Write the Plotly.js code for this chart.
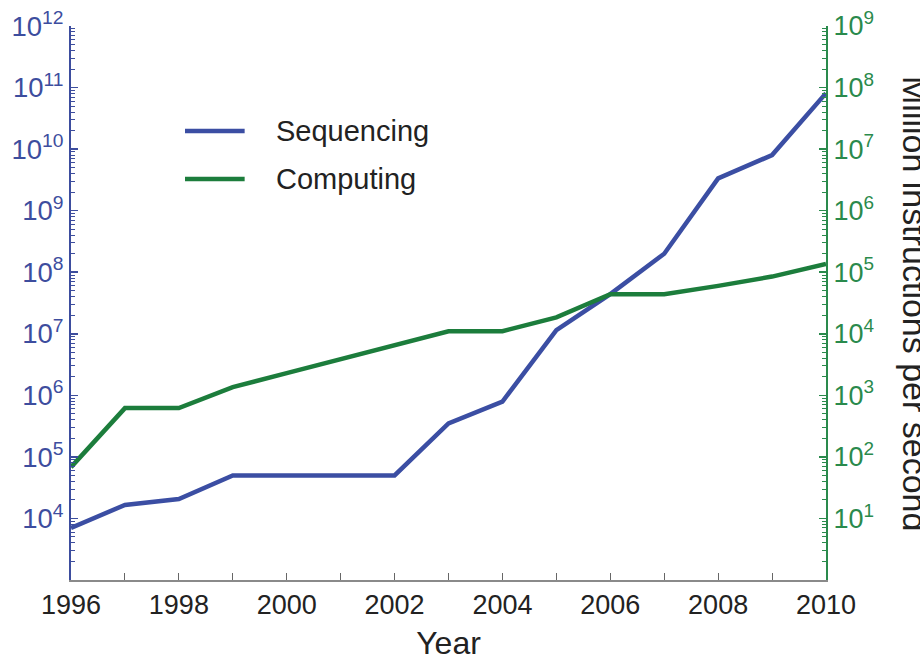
<!DOCTYPE html>
<html>
<head>
<meta charset="utf-8">
<script src="https://cdn.plot.ly/plotly-3.0.1.min.js"></script>
<style>html,body{margin:0;padding:0;background:#fff;}#chart{width:920px;height:661px;}</style>
</head>
<body>
<div id="chart"></div>
<script>
const years = [1996, 1997, 1998, 1999, 2000, 2001, 2002, 2003, 2004, 2005, 2006, 2007, 2008, 2009, 2010];
const sequencing = [7.0e3, 1.66e4, 2.07e4, 5.0e4, 5.0e4, 5.0e4, 5.0e4, 3.5e5, 7.9e5, 1.15e7, 4.4e7, 2.0e8, 3.35e9, 8.0e9, 8.1e10];
const computing = [68, 620, 620, 1360, 2300, 3900, 6600, 1.1e4, 1.1e4, 1.85e4, 4.4e4, 4.4e4, 6.0e4, 8.5e4, 1.36e5];
const seriesNames = ["Sequencing", "Computing"];
const xTickVals = [1996, 1998, 2000, 2002, 2004, 2006, 2008, 2010];
const xTickText = ["1996", "1998", "2000", "2002", "2004", "2006", "2008", "2010"];
const leftTickVals = [1e4, 1e5, 1e6, 1e7, 1e8, 1e9, 1e10, 1e11, 1e12];
const leftTickText = ["10<sup>4</sup>", "10<sup>5</sup>", "10<sup>6</sup>", "10<sup>7</sup>", "10<sup>8</sup>", "10<sup>9</sup>", "10<sup>10</sup>", "10<sup>11</sup>", "10<sup>12</sup>"];
const rightTickVals = [1e1, 1e2, 1e3, 1e4, 1e5, 1e6, 1e7, 1e8, 1e9];
const rightTickText = ["10<sup>1</sup>", "10<sup>2</sup>", "10<sup>3</sup>", "10<sup>4</sup>", "10<sup>5</sup>", "10<sup>6</sup>", "10<sup>7</sup>", "10<sup>8</sup>", "10<sup>9</sup>"];
const xTitle = "Year";
const rightTitle = "Million instructions per second";

const BLUE = "#3b4ea3";
const GREEN = "#1c7d3c";
const BLUE_AX = "#3d4d9e";
const GREEN_AX = "#2a8a4c";
const FONT = "Liberation Sans, Arial, sans-serif";

const traces = [
  {x: years, y: sequencing, name: seriesNames[0], type: "scatter", mode: "lines",
   line: {color: BLUE, width: 4.5}, yaxis: "y", showlegend: false},
  {x: years, y: computing, name: seriesNames[1], type: "scatter", mode: "lines",
   line: {color: GREEN, width: 4.5}, yaxis: "y2", showlegend: false}
];

const layout = {
  width: 920, height: 661,
  margin: {l: 71, r: 94, t: 26, b: 81},
  paper_bgcolor: "#fff", plot_bgcolor: "#fff",
  font: {family: FONT, size: 26, color: "#222"},
  xaxis: {
    range: [1996, 2010], showgrid: false, zeroline: false,
    showline: true, linecolor: "#8a8a8a", linewidth: 1.5,
    tickmode: "array", tickvals: xTickVals, ticktext: xTickText,
    ticks: "inside", ticklen: 7, tickcolor: "#666", tickwidth: 1,
    minor: {dtick: 1, ticks: "inside", ticklen: 7, tickcolor: "#666", tickwidth: 1, showgrid: false},
    tickfont: {family: FONT, size: 27, color: "#222"},
    title: {text: xTitle, font: {family: FONT, size: 32, color: "#222"}, standoff: 14}
  },
  yaxis: {
    type: "log", range: [3, 12], showgrid: false, zeroline: false,
    showline: true, linecolor: BLUE_AX, linewidth: 2,
    tickmode: "array", tickvals: leftTickVals, ticktext: leftTickText,
    ticks: "inside", ticklen: 7, tickcolor: BLUE_AX, tickwidth: 1.5,
    minor: {dtick: "D1", ticks: "inside", ticklen: 4, tickcolor: BLUE_AX, tickwidth: 1, showgrid: false},
    tickfont: {family: FONT, size: 27.5, color: BLUE_AX}
  },
  yaxis2: {
    type: "log", range: [0, 9], overlaying: "y", side: "right", anchor: "x",
    showgrid: false, zeroline: false,
    showline: true, linecolor: GREEN_AX, linewidth: 2,
    tickmode: "array", tickvals: rightTickVals, ticktext: rightTickText,
    ticks: "inside", ticklen: 7, tickcolor: GREEN_AX, tickwidth: 1.5,
    minor: {dtick: "D1", ticks: "inside", ticklen: 4, tickcolor: GREEN_AX, tickwidth: 1, showgrid: false},
    tickfont: {family: FONT, size: 27, color: GREEN_AX}
  },
  shapes: [
    {type: "line", xref: "paper", yref: "paper", x0: 0.151, x1: 0.230, y0: 0.8105, y1: 0.8105,
     line: {color: BLUE, width: 4.5}},
    {type: "line", xref: "paper", yref: "paper", x0: 0.151, x1: 0.230, y0: 0.7238, y1: 0.7238,
     line: {color: GREEN, width: 4.5}}
  ],
  annotations: [
    {xref: "paper", yref: "paper", x: 0.2725, y: 0.8105, xanchor: "left", yanchor: "middle", xshift: -3,
     text: seriesNames[0], showarrow: false, font: {family: FONT, size: 29, color: "#222"}},
    {xref: "paper", yref: "paper", x: 0.2725, y: 0.7238, xanchor: "left", yanchor: "middle", xshift: -3,
     text: seriesNames[1], showarrow: false, font: {family: FONT, size: 29, color: "#222"}},
    {xref: "paper", yref: "paper", x: 1.0, y: 0.5, xshift: 89, xanchor: "center", yanchor: "middle",
     text: rightTitle, textangle: 90, showarrow: false, font: {family: FONT, size: 34, color: "#222"}}
  ]
};

Plotly.newPlot("chart", traces, layout, {staticPlot: true, displayModeBar: false});
</script>
</body>
</html>
